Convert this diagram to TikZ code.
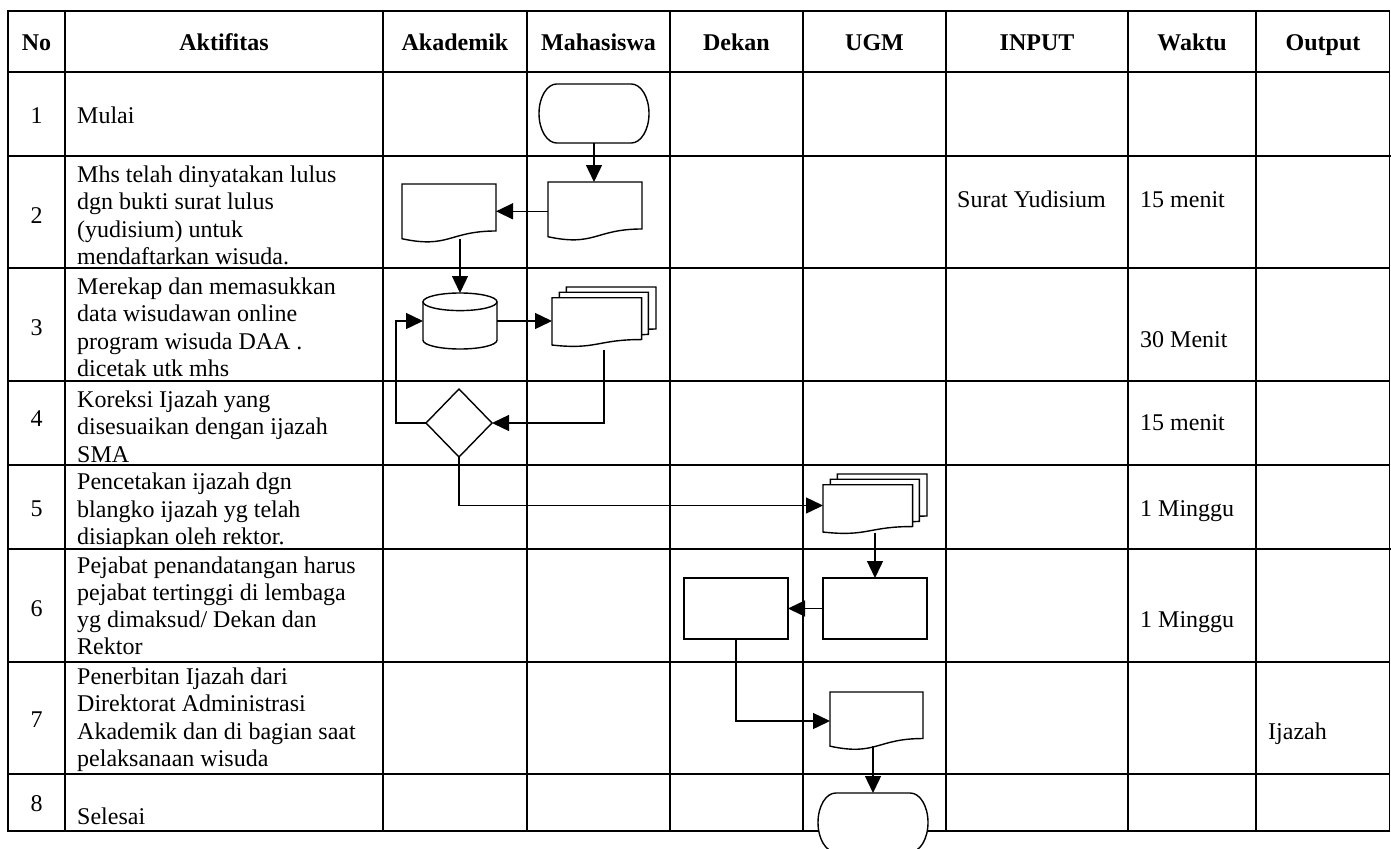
\documentclass[tikz,border=0pt]{standalone}
\usepackage{fontspec}
\setmainfont{Liberation Serif}[Ligatures=CommonOff]
\usetikzlibrary{arrows.meta,calc}
\tikzset{
  tline/.style={line width=1.6pt, line cap=rect},
  tthick/.style={line width=2.6pt, line cap=rect},
  shp/.style={line width=1.4pt},
  sbox/.style 2 args={inner sep=0pt, outer sep=0pt, minimum width=#1, minimum height=#2},
  arr/.style={line width=1.4pt, -{Triangle[length=17pt,width=16pt]}},
  txt/.style={inner sep=0pt, anchor=base west, font=\fontsize{24}{27.5}\selectfont},
  hdr/.style={inner sep=0pt, anchor=base, font=\bfseries\fontsize{24}{27.5}\selectfont},
  numtxt/.style={inner sep=0pt, anchor=base, font=\fontsize{24}{27.5}\selectfont},
}
\newcommand\celltext[5]{\foreach \t [count=\i from 0] in {#5} {\node[txt] (#1-\i) at (#2,{#3+#4*\i}) {\t};}}
\newcommand\mydoc[2]{%
  \draw[shp, fill=white] (#1.north west) -- (#1.north east) -- ($(#1.north east)+(0,0.802*#2)$)
    .. controls ($(#1.north)+(0,0.802*#2)$) and ($(#1.north)+(0,1.107*#2)$) .. ($(#1.north west)+(0,0.934*#2)$) -- cycle;}
\newcommand\mymulti[3]{%
  \draw[shp] ($(#1.north west)+(0.138*#2,0.084*#3)$) -- ($(#1.north west)+(0.138*#2,0)$) -- ($(#1.north west)+(#2,0)$) -- ($(#1.north west)+(#2,0.666*#3)$) -- ($(#1.north west)+(0.926*#2,0.670*#3)$);
  \draw[shp] ($(#1.north west)+(0.071*#2,0.170*#3)$) -- ($(#1.north west)+(0.071*#2,0.084*#3)$) -- ($(#1.north west)+(0.926*#2,0.084*#3)$) -- ($(#1.north west)+(0.926*#2,0.752*#3)$) -- ($(#1.north west)+(0.861*#2,0.757*#3)$);
  \draw[shp, fill=white] ($(#1.north west)+(0,0.170*#3)$) -- ($(#1.north west)+(0.861*#2,0.170*#3)$) -- ($(#1.north west)+(0.861*#2,0.834*#3)$)
    .. controls ($(#1.north west)+(0.4305*#2,0.834*#3)$) and ($(#1.north west)+(0.4305*#2,#3)$) .. ($(#1.north west)+(0,0.921*#3)$) -- cycle;}
\newcommand\myterm[3]{%
  \draw[shp, fill=white] ($(#1.north west)+(0.161*#2,0)$) -- ($(#1.north east)+(-0.161*#2,0)$)
   .. controls ($(#1.north east)+(-0.0721*#2,0)$) and ($(#1.east)+(0,-0.276*#3)$) .. (#1.east)
   .. controls ($(#1.east)+(0,0.276*#3)$) and ($(#1.south east)+(-0.0721*#2,0)$) .. ($(#1.south east)+(-0.161*#2,0)$)
   -- ($(#1.south west)+(0.161*#2,0)$)
   .. controls ($(#1.south west)+(0.0721*#2,0)$) and ($(#1.west)+(0,0.276*#3)$) .. (#1.west)
   .. controls ($(#1.west)+(0,-0.276*#3)$) and ($(#1.north west)+(0.0721*#2,0)$) .. cycle;}
\newcommand\mycyl[3]{%
  \draw[shp, fill=white] ($(#1.north west)+(0,#3)$) -- ($(#1.south west)+(0,-#3)$)
    .. controls ($(#1.south west)+(0,-0.4477*#3)$) and ($(#1.south)+(-0.5523*#2,0)$) .. (#1.south)
    .. controls ($(#1.south)+(0.5523*#2,0)$) and ($(#1.south east)+(0,-0.4477*#3)$) .. ($(#1.south east)+(0,-#3)$)
    -- ($(#1.north east)+(0,#3)$);
  \draw[shp, fill=white] ($(#1.north)+(0,#3)$) ellipse [x radius=#2pt, y radius=#3pt];}
\begin{document}
\begin{tikzpicture}[x=1pt,y=-1pt]
\fill[white] (0,0) rectangle (1391,848);
\useasboundingbox (0,0) rectangle (1391,848);
% table
\foreach \yy in {11,72,268,381,465,662,774,831} \draw[tline] (8,\yy) -- (1389.5,\yy);
\foreach \yy in {156,549} \draw[tthick] (8,\yy) -- (1389.5,\yy);
\foreach \xx in {8,65,383,527,670,803,946,1128,1256,1389.5} \draw[tline] (\xx,11) -- (\xx,831);
% headers
\node[hdr] (hNo) at (36.5,50.5) {No};
\node[hdr] (hAk) at (224,50.5) {Aktifitas};
\node[hdr] (hAd) at (455,50.5) {Akademik};
\node[hdr] (hMh) at (598.5,50.5) {Mahasiswa};
\node[hdr] (hDk) at (736.5,50.5) {Dekan};
\node[hdr] (hUg) at (874.5,50.5) {UGM};
\node[hdr] (hIn) at (1037,50.5) {INPUT};
\node[hdr] (hWk) at (1192,50.5) {Waktu};
\node[hdr] (hOu) at (1323,50.5) {Output};
% numbers
\node[numtxt] (n1) at (36.5,124) {1};
\node[numtxt] (n2) at (36.5,223) {2};
\node[numtxt] (n3) at (36.5,335) {3};
\node[numtxt] (n4) at (36.5,426) {4};
\node[numtxt] (n5) at (36.5,516) {5};
\node[numtxt] (n6) at (36.5,616) {6};
\node[numtxt] (n7) at (36.5,727) {7};
\node[numtxt] (n8) at (36.5,811) {8};
% activities
\celltext{a1}{77}{124}{27.5}{Mulai}
\celltext{a2}{77}{182}{27.5}{Mhs telah dinyatakan lulus,dgn bukti surat lulus,(yudisium) untuk,mendaftarkan wisuda.}
\celltext{a3}{77}{294}{27.5}{Merekap dan memasukkan,data wisudawan online,program wisuda DAA .,dicetak utk mhs}
\celltext{a4}{77}{407}{27.5}{Koreksi Ijazah yang,disesuaikan dengan ijazah,SMA}
\celltext{a5}{77}{489.5}{27.5}{Pencetakan ijazah dgn,blangko ijazah yg telah,disiapkan oleh rektor.}
\celltext{a6}{77}{573}{27}{Pejabat penandatangan harus,pejabat tertinggi di lembaga,yg dimaksud/ Dekan dan,Rektor}
\celltext{a7}{77}{684}{27.5}{Penerbitan Ijazah dari,Direktorat Administrasi,Akademik dan di bagian saat,pelaksanaan wisuda}
\celltext{a8}{77}{824}{27.5}{Selesai}
% right columns
\node[txt] (in2) at (957,207.5) {Surat Yudisium};
\node[txt] (w2) at (1140,207.5) {15 menit};
\node[txt] (w3) at (1140,347.5) {30 Menit};
\node[txt] (w4) at (1140,430) {15 menit};
\node[txt] (w5) at (1140,516.5) {1 Minggu};
\node[txt] (w6) at (1140,627) {1 Minggu};
\node[txt] (o7) at (1268,739.5) {Ijazah};
% shapes
\node[sbox={110pt}{59pt}] (st) at (594,113.5) {};
\myterm{st}{110}{59}
\node[sbox={94pt}{58.6pt}] (mdoc) at (595,211.3) {};
\mydoc{mdoc}{58.6}
\node[sbox={94pt}{58.6pt}] (adoc) at (449,213.3) {};
\mydoc{adoc}{58.6}
\node[sbox={74pt}{56pt}] (cyl) at (460,321) {};
\mycyl{cyl}{37}{8.8}
\node[sbox={104pt}{63pt}] (md3) at (604,318.5) {};
\mymulti{md3}{104}{63}
\node[sbox={66pt}{68pt}] (dia) at (459,423) {};
\draw[shp, fill=white] (dia.north) -- (dia.east) -- (dia.south) -- (dia.west) -- cycle;
\node[sbox={104pt}{63pt}] (md5) at (875,505.5) {};
\mymulti{md5}{104}{63}
\node[sbox={104pt}{61pt}, draw, shp] (urect) at (875,608.5) {};
\node[sbox={104pt}{61pt}, draw, shp] (drect) at (736,608.5) {};
\node[sbox={93pt}{58pt}] (u7) at (876.5,721) {};
\mydoc{u7}{58}
\node[sbox={110pt}{59pt}] (et) at (873,822.5) {};
\myterm{et}{110}{59}
% connector helper points on wave bottoms
\coordinate (aw) at ($(adoc.north)+(0,54.7)$);
\coordinate (m5w) at ($(md5.north)+(0,58.6)$);
\coordinate (u7w) at ($(u7.north)+(0,54.2)$);
% connectors
\draw[arr] (st.south) -- (st.south |- mdoc.north);
\draw[arr] (mdoc.west) -- (mdoc.west -| adoc.east);
\draw[arr] (aw -| cyl.north) -- (cyl.north);
\draw[arr] (cyl.east) -- (cyl.east -| md3.west);
\draw[arr] (md3.south) |- (dia.east);
\draw[arr] (dia.west) -- ++(-30,0) |- (cyl.west);
\draw[arr] (dia.south) |- (md5.west);
\draw[arr] (m5w -| urect.north) -- (urect.north);
\draw[arr] (urect.west) -- (drect.east);
\draw[arr] (drect.south) |- (u7.west);
\draw[arr] (u7w -| et.north) -- (et.north);
\end{tikzpicture}
\end{document}
